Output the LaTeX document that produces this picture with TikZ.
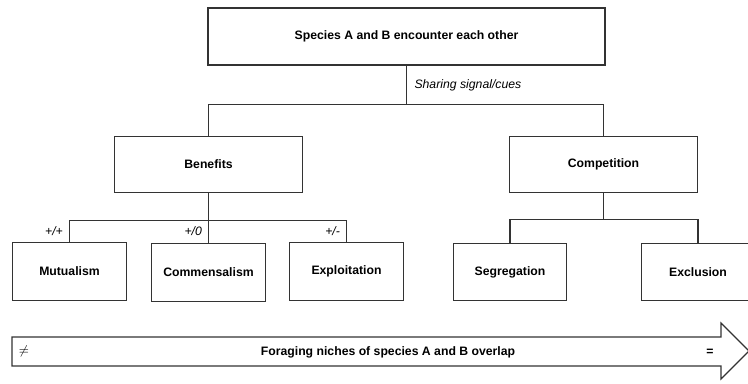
\documentclass[tikz,border=0pt]{standalone}
\usepackage{fontspec}
\setmainfont{Liberation Sans}
\usepackage{tikz}
\usetikzlibrary{positioning,calc}
\definecolor{linegray}{RGB}{51,51,51}
\newcommand{\lbfont}{\fontsize{8.7}{10}\selectfont}
\tikzset{
  box/.style={draw=linegray, line width=0.8pt, fill=white, align=center,
              font=\lbfont\bfseries, inner sep=2pt},
  bigbox/.style={box, minimum width=9.925cm, minimum height=1.425cm},
  midbox/.style={box, minimum width=4.7cm, minimum height=1.41cm},
  leafbox/.style={box, minimum width=2.84cm, minimum height=1.44cm},
  wire/.style={draw=linegray, line width=0.8pt},
  tag/.style={font=\lbfont\itshape, inner sep=2pt}
}

\begin{document}
\begin{tikzpicture}[x=0.025cm, y=-0.025cm]
    \useasboundingbox (0,0) rectangle (748,383);
    % boxes
    \node[bigbox] (enc) at (406.5,36.5) {Species A and B encounter each other};
    \node[midbox] (ben) at (208.5,164.5) {Benefits};
    \node[midbox] (comp) at (603.5,164.5) {Competition};
    \node[leafbox] (mut) at (69.5,271.5) {Mutualism};
    \node[leafbox] (com) at (208.5,272.5) {Commensalism};
    \node[leafbox] (expl) at (346.5,271.5) {Exploitation};
    \node[leafbox] (seg) at (510,272) {Segregation};
    \node[leafbox] (excl) at (698,272) {Exclusion};
    % junctions
    \coordinate (j1) at ($(enc.south)+(0,39)$);
    \coordinate (j2) at ($(ben.south)+(0,27)$);
    \coordinate (j3) at ($(comp.south)+(0,26)$);
    % connectors
    \draw[wire] (enc.south) -- (j1) -| (ben.north);
    \draw[wire] (j1) -| (comp.north);
    \draw[wire] (ben.south) -- (j2) -| (mut.north);
    \draw[wire] (j2) -| (expl.north);
    \draw[wire] (j2) -- (com.north);
    \draw[wire] (comp.south) -- (j3) -| (seg.north);
    \draw[wire] (j3) -| (excl.north);
    % labels
    \node[tag, anchor=west, xshift=3.5pt] (share) at ($(enc.south)!0.5!(j1)$) {Sharing signal/cues};
    \node[tag, anchor=east, xshift=-2.5pt] (pp) at ($(mut.north)+(0,-11)$) {+/+};
    \node[tag, anchor=east, xshift=-2.5pt] (pz) at ($(com.north)+(0,-12)$) {+/0};
    \node[tag, anchor=east, xshift=-2.5pt] (pm) at ($(expl.north)+(0,-11)$) {+/-};
    % overlap arrow
    \draw[wire, fill=white] (12,337) -- (721,337) -- (721,323) -- (749,351)
        -- (721,379) -- (721,366) -- (12,366) -- cycle;
    \node[font=\lbfont\bfseries] (niche) at (388,352) {Foraging niches of species A and B overlap};
    \node[font=\lbfont, anchor=west] (neq) at (14,351) {$\neq$};
    \node[font=\lbfont\bfseries] (eq) at (710,352) {=};
\end{tikzpicture}
\end{document}
